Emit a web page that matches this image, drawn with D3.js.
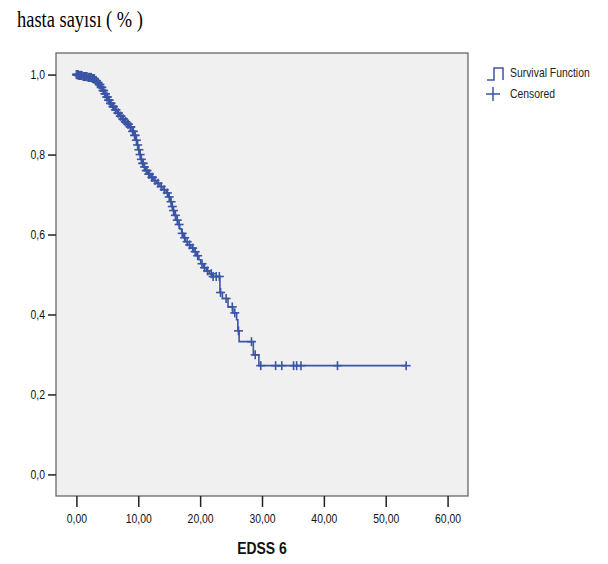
<!DOCTYPE html>
<html>
<head>
<meta charset="utf-8">
<script src="https://cdn.jsdelivr.net/npm/d3@7"></script>
<style>
  html, body { margin: 0; padding: 0; background: #ffffff; }
  svg { display: block; }
</style>
</head>
<body>
<svg id="chart" width="608" height="564"></svg>
<script>
// ---- data ----
const titleText = "hasta sayısı ( % )";
const xTitle = "EDSS 6";
const legendLabels = ["Survival Function", "Censored"];
const xTicks = [0, 10, 20, 30, 40, 50, 60];
const yTicks = [0, 0.2, 0.4, 0.6, 0.8, 1.0];

// event times and survival level after each drop
const eventTimes = [0.3, 1.0, 1.8, 2.5, 3.0, 3.3, 3.6, 3.9, 4.2, 4.5, 4.8, 5.1, 5.4, 5.8, 6.2, 6.6, 7.0, 7.4, 7.8, 8.2,
  8.6, 9.0, 9.3, 9.6, 9.8, 10.0, 10.2, 10.4, 10.6, 10.9, 11.2, 11.6, 12.0, 12.5, 13.0, 13.5, 14.0, 14.5, 14.9, 15.2,
  15.4, 15.6, 15.8, 16.1, 16.4, 16.7, 17.0, 17.3, 17.6, 18.0, 18.5, 19.0, 19.4, 19.8, 20.1, 20.5, 21.0, 21.5, 22.0,
  23.2, 23.6, 24.5, 25.3, 25.9, 26.1, 26.3, 28.6, 29.5];
const survival = [0.998, 0.995, 0.993, 0.990, 0.985, 0.980, 0.975, 0.968, 0.960, 0.952, 0.944, 0.936, 0.928, 0.920,
  0.912, 0.904, 0.896, 0.889, 0.882, 0.876, 0.869, 0.858, 0.848, 0.836, 0.824, 0.812, 0.800, 0.788, 0.778, 0.769,
  0.760, 0.751, 0.743, 0.735, 0.728, 0.720, 0.712, 0.704, 0.694, 0.682, 0.670, 0.660, 0.648, 0.636, 0.625, 0.614,
  0.603, 0.592, 0.582, 0.574, 0.566, 0.557, 0.547, 0.537, 0.527, 0.517, 0.509, 0.502, 0.495,
  0.455, 0.440, 0.419, 0.404, 0.387, 0.359, 0.332, 0.299, 0.272];
// censored times
const censoredTimes = [0.0, 0.05, 0.1, 0.15, 0.2, 0.25, 0.35, 0.4, 0.45, 0.5, 0.6, 0.7, 0.8, 0.9, 1.1, 1.2, 1.3, 1.4,
  1.5, 1.6, 1.7, 1.9, 2.0, 2.1, 2.2, 2.3, 2.4, 2.6, 2.7, 2.8, 2.9, 3.1, 3.2, 3.4, 3.5, 3.7, 3.8, 4.0, 4.1, 4.3, 4.4,
  4.6, 4.7, 4.9, 5.0, 5.2, 5.3, 5.5, 5.6, 5.9, 6.0, 6.3, 6.4, 6.7, 6.8, 7.1, 7.2, 7.5, 7.6, 7.9, 8.0, 8.3, 8.4, 8.7,
  8.8, 9.1, 9.2, 9.4, 9.5, 9.7, 9.9, 10.1, 10.3, 10.5, 10.7, 10.8, 11.0, 11.3, 11.4, 11.7, 11.8, 12.2, 12.3, 12.7,
  13.2, 13.7, 14.2, 14.7, 15.0, 15.3, 15.5, 15.7, 16.0, 16.3, 16.6, 17.1, 17.5, 17.9, 18.3, 18.8, 19.2,
  19.6, 20.3, 20.7, 21.2, 21.8, 22.1, 22.6, 23.1, 23.3, 24.2, 25.2, 25.6, 26.2, 28.3, 28.9, 29.8, 32.2, 33.2, 35.1,
  35.6, 36.3, 42.2, 53.3];

// ---- layout ----
const blue = "#3b55a5";
const plot = { left: 56, right: 468, top: 53, bottom: 496 };
const svg = d3.select("#chart");

const x = d3.scaleLinear().domain([-3.3, 63.3]).range([plot.left, plot.right]);
const y = d3.scaleLinear().domain([-0.054, 1.054]).range([plot.bottom, plot.top]);

const loc = d3.formatLocale({ decimal: ",", thousands: ".", grouping: [3], currency: ["", ""] });
const sans = "Liberation Sans, Arial, sans-serif";

function narrowText(sel, k) {
  sel.each(function () {
    const w = this.getComputedTextLength();
    d3.select(this).attr("textLength", w * k).attr("lengthAdjust", "spacingAndGlyphs");
  });
}

// title
svg.append("text")
  .attr("x", 17).attr("y", 27)
  .attr("font-family", "Liberation Serif, Times New Roman, serif")
  .attr("font-size", 23)
  .attr("textLength", 126).attr("lengthAdjust", "spacingAndGlyphs")
  .attr("fill", "#000")
  .text(titleText);

// plot background
svg.append("rect")
  .attr("x", plot.left).attr("y", plot.top)
  .attr("width", plot.right - plot.left).attr("height", plot.bottom - plot.top)
  .attr("fill", "#f0f0f0").attr("stroke", "#5c5c5c").attr("stroke-width", 1.2);

// y axis
const yAxis = svg.append("g").attr("transform", `translate(${plot.left},0)`)
  .call(d3.axisLeft(y).tickValues(yTicks).tickFormat(loc.format(".1f")).tickSize(8).tickPadding(3).tickSizeOuter(0));
yAxis.select(".domain").remove();
yAxis.selectAll("line").attr("stroke", "#222").attr("stroke-width", 1.5);
yAxis.selectAll("text").attr("font-family", sans).attr("font-size", 13).attr("fill", "#111").call(narrowText, 0.8);

// x axis
const xAxis = svg.append("g").attr("transform", `translate(0,${plot.bottom})`)
  .call(d3.axisBottom(x).tickValues(xTicks).tickFormat(loc.format(".2f")).tickSize(11).tickPadding(7).tickSizeOuter(0));
xAxis.select(".domain").remove();
xAxis.selectAll("line").attr("stroke", "#222").attr("stroke-width", 1.5);
xAxis.selectAll("text").attr("font-family", sans).attr("font-size", 13).attr("fill", "#111").call(narrowText, 0.8);

// x title
svg.append("text")
  .attr("x", 262).attr("y", 554)
  .attr("text-anchor", "middle")
  .attr("font-family", sans).attr("font-weight", "bold").attr("font-size", 17)
  .attr("fill", "#111")
  .text(xTitle)
  .call(narrowText, 0.82);

// KM step path
const steps = [[0, 1.0]];
let prev = 1.0;
eventTimes.forEach((t, i) => {
  steps.push([t, prev]);
  steps.push([t, survival[i]]);
  prev = survival[i];
});
steps.push([d3.max(censoredTimes), prev]);

svg.append("path")
  .datum(steps)
  .attr("fill", "none")
  .attr("stroke", blue)
  .attr("stroke-width", 1.6)
  .attr("d", d3.line().x(d => x(d[0])).y(d => y(d[1])));

function survAt(t) {
  let s = 1.0;
  for (let i = 0; i < eventTimes.length; i++) {
    if (eventTimes[i] <= t) s = survival[i]; else break;
  }
  return s;
}

const m = 4.5;
const marks = svg.append("g").attr("stroke", blue).attr("stroke-width", 1.6);
censoredTimes.forEach(t => {
  const cx = x(t), cy = y(survAt(t));
  marks.append("line").attr("x1", cx - m).attr("x2", cx + m).attr("y1", cy).attr("y2", cy);
  marks.append("line").attr("x1", cx).attr("x2", cx).attr("y1", cy - m).attr("y2", cy + m);
});

// legend
const lg = svg.append("g");
lg.append("path")
  .attr("d", "M487,80 L494,80 L494,68 L503,68 L503,80")
  .attr("fill", "none").attr("stroke", blue).attr("stroke-width", 1.5);
lg.append("line").attr("x1", 486).attr("x2", 500).attr("y1", 94).attr("y2", 94).attr("stroke", blue).attr("stroke-width", 1.5);
lg.append("line").attr("x1", 493).attr("x2", 493).attr("y1", 87).attr("y2", 101).attr("stroke", blue).attr("stroke-width", 1.5);
lg.append("text").attr("transform", "translate(510,77) scale(0.8,1)")
  .attr("font-family", sans).attr("font-size", 13).attr("fill", "#222")
  .text(legendLabels[0]);
lg.append("text").attr("transform", "translate(510,98) scale(0.8,1)")
  .attr("font-family", sans).attr("font-size", 13).attr("fill", "#222")
  .text(legendLabels[1]);
</script>
</body>
</html>
